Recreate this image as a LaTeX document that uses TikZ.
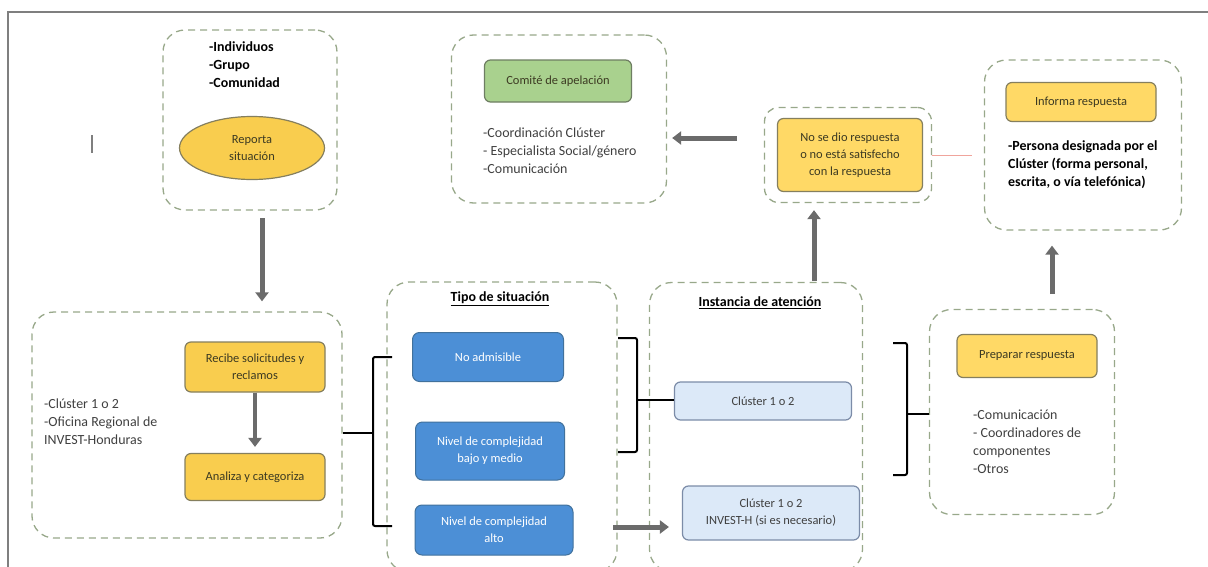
\documentclass[tikz,border=0pt]{standalone}
\usepackage{fontspec}
\setmainfont{Carlito}
\usepackage{tikz}
\usetikzlibrary{arrows.meta,shapes.geometric}
\definecolor{framegray}{HTML}{7F7F7F}
\definecolor{dashgreen}{HTML}{98A88A}
\definecolor{ygold}{HTML}{F9CD4E}
\definecolor{ylight}{HTML}{FFD966}
\definecolor{yedge}{HTML}{857F5E}
\definecolor{ytext}{HTML}{3C3A22}
\definecolor{bfill}{HTML}{4C8FD6}
\definecolor{bedge}{HTML}{41719C}
\definecolor{lbfill}{HTML}{DCE9F8}
\definecolor{lbedge}{HTML}{7C8CA8}
\definecolor{gfill}{HTML}{A9D18E}
\definecolor{gedge}{HTML}{6E7E62}
\definecolor{arrgray}{HTML}{6B6B6B}
\definecolor{txtgray}{HTML}{404040}
\definecolor{pinkline}{HTML}{F0A49C}
\newcommand\listfont{\fontsize{14}{18}\selectfont}
\newcommand\boxfont{\fontsize{12.5}{17}\selectfont}
\tikzset{
  grp/.style={draw=dashgreen,line width=1.3bp,dash pattern=on 7bp off 5bp,rounded corners=22bp,fill=white},
  ybox/.style={draw=yedge,fill=#1,line width=1.2bp,rounded corners=6bp,align=center,font=\boxfont,text=ytext},
  ybox/.default=ygold,
  bbox/.style={draw=bedge,fill=bfill,line width=1bp,rounded corners=7bp,align=center,font=\boxfont,text=white},
  lbbox/.style={draw=lbedge,fill=lbfill,line width=1.2bp,rounded corners=6bp,align=center,font=\boxfont,text=txtgray},
  gbox/.style={draw=gedge,fill=gfill,line width=1.2bp,rounded corners=6bp,align=center,font=\boxfont,text=ytext},
  plain/.style={anchor=west,align=left,inner sep=0pt,font=\listfont,text=txtgray},
  garrow/.style={draw=arrgray,line width=5bp,-{Triangle[width=13bp,length=9bp]}},
  brace/.style={draw=black,line width=2bp,rounded corners=2bp}
}

\begin{document}
\begin{tikzpicture}

\useasboundingbox (0bp,0bp) rectangle (1208bp,-567bp);
\draw [framegray,line width=2bp] (8bp,-567bp) -- (8bp,-12bp) -- (1208bp,-12bp);
\draw [framegray,line width=1.2bp] (92bp,-135bp) -- (92bp,-153bp);

\node (grpA) at (250bp,-120bp)[grp,minimum width=174bp,minimum height=180bp] {};
\node (grpB) at (187bp,-425bp)[grp,minimum width=310bp,minimum height=226bp] {};
\node (grpC) at (502bp,-427bp)[grp,minimum width=230bp,minimum height=290bp] {};
\node (grpD) at (756bp,-427bp)[grp,minimum width=213bp,minimum height=289bp] {};
\node (grpE) at (1022bp,-412bp)[grp,minimum width=185bp,minimum height=205bp] {};
\node (grpF) at (1083bp,-145bp)[grp,minimum width=197bp,minimum height=170bp] {};
\node (grpG) at (848bp,-155bp)[grp,rounded corners=14bp,minimum width=167bp,minimum height=95bp] {};
\node (grpH) at (559bp,-119bp)[grp,minimum width=215bp,minimum height=168bp] {};

\node (people) at (209bp,-65bp)[plain,font=\listfont\bfseries,text=black] {-Individuos\\-Grupo\\-Comunidad};
\node (reporta) at (252bp,-148bp)[ybox,ellipse,minimum width=145bp,minimum height=63bp,inner sep=0pt] {Reporta\\situación};

\node (recibe) at (255bp,-367bp)[ybox,minimum width=140bp,minimum height=50bp] {Recibe solicitudes y\\reclamos};
\node (analiza) at (255bp,-477bp)[ybox,minimum width=140bp,minimum height=47bp] {Analiza y categoriza};
\node (oficina) at (44bp,-422bp)[plain] {-Clúster 1 o 2\\-Oficina Regional de\\INVEST-Honduras};

\node (tipo) at (500bp,-299bp)[font=\listfont\bfseries,inner sep=0pt] {\underline{Tipo de situación}};
\node (noadm) at (488bp,-357bp)[bbox,minimum width=151bp,minimum height=49bp] {No admisible};
\node (bajo) at (490bp,-451bp)[bbox,minimum width=149bp,minimum height=58bp] {Nivel de complejidad\\bajo y medio};
\node (alto) at (494bp,-530bp)[bbox,minimum width=158bp,minimum height=50bp] {Nivel de complejidad\\alto};

\node (instancia) at (760bp,-303bp)[font=\listfont\bfseries,inner sep=0pt] {\underline{Instancia de atención}};
\node (clus1) at (763bp,-401bp)[lbbox,minimum width=177bp,minimum height=38bp] {Clúster 1 o 2};
\node (clus2) at (771bp,-513bp)[lbbox,minimum width=177bp,minimum height=54bp] {Clúster 1 o 2\\INVEST-H (si es necesario)};

\node (prep) at (1027bp,-356bp)[ybox=ylight,minimum width=140bp,minimum height=43bp] {Preparar respuesta};
\node (equipo) at (973bp,-442bp)[plain] {-Comunicación\\- Coordinadores de\\componentes\\-Otros};

\node (informa) at (1081bp,-102bp)[ybox=ylight,minimum width=150bp,minimum height=39bp] {Informa respuesta};
\node (persona) at (1008bp,-165bp)[plain,font=\listfont\bfseries,text=black] {-Persona designada por el\\Clúster (forma personal,\\escrita, o vía telefónica)};

\node (nosedio) at (850bp,-155bp)[ybox=ylight,minimum width=145bp,minimum height=73bp] {No se dio respuesta\\o no está satisfecho\\con la respuesta};

\node (comite) at (558bp,-81bp)[gbox,minimum width=147bp,minimum height=42bp] {Comité de apelación};
\node (coord) at (483bp,-151bp)[plain] {-Coordinación Clúster\\- Especialista Social/género\\-Comunicación};

\coordinate (brA) at (373bp,-433bp);
\coordinate (brB) at (637bp,-400bp);
\coordinate (brC) at (907bp,-414bp);
\draw [brace] (392bp,-357bp) -- (373bp,-357bp) -- (373bp,-526bp) -- (392bp,-526bp);
\draw [brace] (brA) -- (brA -| grpB.east);
\draw [brace] (618bp,-338bp) -- (637bp,-338bp) -- (637bp,-452bp) -- (618bp,-452bp);
\draw [brace] (brB) -- (brB -| clus1.west);
\draw [brace] (893bp,-343bp) -- (907bp,-343bp) -- (907bp,-475bp) -- (893bp,-475bp);
\draw [brace] (brC) -- (brC -| grpE.west);

\coordinate (arrAB) at (262bp,-218bp);
\coordinate (arrCD) at (613bp,-527bp);
\coordinate (arrDG) at (814bp,-281bp);
\coordinate (arrGH) at (737bp,-138bp);
\coordinate (arrEF) at (1052bp,-294bp);
\draw [garrow] (arrAB) -- ([yshift=10bp]arrAB |- grpB.north);
\draw [garrow,line width=3.5bp] (recibe.south) -- ([yshift=6bp]analiza.north);
\draw [garrow] (arrCD) -- ([xshift=-13bp]arrCD -| clus2.west);
\draw [garrow] (arrDG) -- ([yshift=-7bp]arrDG |- grpG.south);
\draw [garrow] (arrGH) -- ([xshift=5bp]arrGH -| grpH.east);
\draw [garrow] (arrEF) -- ([yshift=-15bp]arrEF |- grpF.south);
\draw [pinkline,line width=0.8bp] (grpG.east) -- ([xshift=-12bp]grpG.east -| grpF.west);
\end{tikzpicture}
\end{document}
